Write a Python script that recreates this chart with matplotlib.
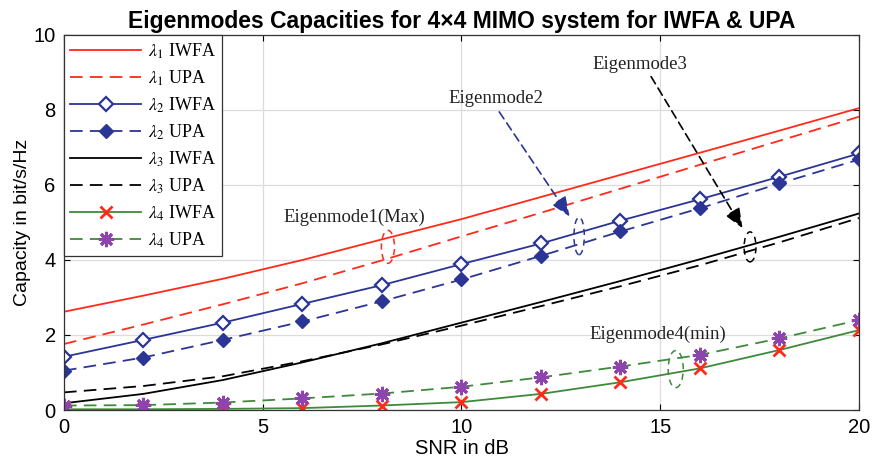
import numpy as np
import matplotlib
matplotlib.use("Agg")
from matplotlib import pyplot as plt
from matplotlib.patches import Ellipse

snr_db = [0, 2, 4, 6, 8, 10, 12, 14, 16, 18, 20]

# capacity per eigenmode (bit/s/Hz)
lam1_iwfa = [2.62, 3.05, 3.50, 4.00, 4.55, 5.09, 5.68, 6.27, 6.86, 7.45, 8.05]
lam1_upa = [1.76, 2.28, 2.82, 3.38, 3.99, 4.63, 5.26, 5.90, 6.54, 7.18, 7.82]
lam2_iwfa = [1.42, 1.87, 2.33, 2.83, 3.33, 3.89, 4.44, 5.05, 5.62, 6.22, 6.84]
lam2_upa = [1.05, 1.40, 1.87, 2.36, 2.90, 3.48, 4.11, 4.76, 5.38, 6.04, 6.68]
lam3_iwfa = [0.18, 0.43, 0.80, 1.27, 1.78, 2.33, 2.88, 3.44, 4.02, 4.62, 5.24]
lam3_upa = [0.47, 0.64, 0.90, 1.30, 1.75, 2.25, 2.77, 3.30, 3.86, 4.47, 5.12]
lam4_iwfa = [0.02, 0.02, 0.03, 0.05, 0.12, 0.21, 0.43, 0.74, 1.11, 1.60, 2.13]
lam4_upa = [0.12, 0.13, 0.20, 0.31, 0.44, 0.62, 0.87, 1.16, 1.47, 1.91, 2.40]

red = "#ff2a1a"
blue = "#2b3596"
green = "#3f8a3a"
purple = "#8e44ad"
dash = (7, 4)

plt.rcParams["font.family"] = ["Liberation Sans", "DejaVu Sans"]
plt.rcParams["mathtext.fontset"] = "stix"

fig = plt.figure(figsize=(8.74, 4.58), dpi=100)
ax = fig.add_axes([0.0732, 0.1048, 0.9096, 0.8188])

ax.plot(snr_db, lam1_iwfa, color=red, lw=1.3, label=r"$\lambda_1$ IWFA")
ax.plot(snr_db, lam1_upa, color=red, lw=1.3, dashes=dash, label=r"$\lambda_1$ UPA")
ax.plot(snr_db, lam2_iwfa, color=blue, lw=1.3, marker="D", ms=7.5, mfc="white",
        mec=blue, mew=1.6, label=r"$\lambda_2$ IWFA")
ax.plot(snr_db, lam2_upa, color=blue, lw=1.3, dashes=dash, marker="D", ms=7,
        mfc=blue, mec=blue, label=r"$\lambda_2$ UPA")
ax.plot(snr_db, lam3_iwfa, color="black", lw=1.3, label=r"$\lambda_3$ IWFA")
ax.plot(snr_db, lam3_upa, color="black", lw=1.3, dashes=dash, label=r"$\lambda_3$ UPA")
ax.plot(snr_db, lam4_iwfa, color=green, lw=1.3, marker="x", ms=9, mec=red,
        mew=2, label=r"$\lambda_4$ IWFA")
ax.plot(snr_db, lam4_upa, color=green, lw=1.3, dashes=dash, marker=(8, 2, 0),
        ms=11, mec=purple, mew=2.2, label=r"$\lambda_4$ UPA")

# eigenmode annotations
ann_font = dict(family="Liberation Serif", fontsize=13.5, color="#222222")
ax.text(7.31, 5.15, "Eigenmode1(Max)", ha="center", va="center", **ann_font)
ax.text(10.87, 8.31, "Eigenmode2", ha="center", va="center", **ann_font)
ax.text(14.49, 9.2, "Eigenmode3", ha="center", va="center", **ann_font)
ax.text(14.93, 2.03, "Eigenmode4(min)", ha="center", va="center", **ann_font)

head = "-|>,head_length=1.2,head_width=0.5"
ax.annotate("", xy=(12.72, 5.16), xytext=(10.95, 7.95),
            arrowprops=dict(arrowstyle=head, color=blue, lw=1.2,
                            linestyle=(0, (5, 3)), shrinkA=0, shrinkB=0))
ax.annotate("", xy=(17.07, 4.85), xytext=(14.77, 8.89),
            arrowprops=dict(arrowstyle=head, color="black", lw=1.2,
                            linestyle=(0, (5, 3)), shrinkA=0, shrinkB=0))

for (cx, cy, w, h, c) in [(8.15, 4.35, 0.33, 0.88, red),
                          (12.96, 4.64, 0.26, 1.0, blue),
                          (17.26, 4.35, 0.3, 0.8, "black"),
                          (15.39, 1.09, 0.38, 0.99, green)]:
    ax.add_patch(Ellipse((cx, cy), w, h, fill=False, ec=c, lw=1.1,
                         linestyle=(0, (4, 3))))

ax.set_xlim(0, 20)
ax.set_ylim(0, 10)
ax.set_xticks([0, 5, 10, 15, 20])
ax.set_yticks([0, 2, 4, 6, 8, 10])
ax.grid(True, color="#dcdcdc", lw=0.9)
ax.set_axisbelow(True)
ax.tick_params(direction="in", top=True, right=True, labelsize=14.5, length=4,
               pad=6)
for s in ax.spines.values():
    s.set_color("#333333")
    s.set_linewidth(0.9)

ax.set_xlabel("SNR in dB", fontsize=14.5, labelpad=1)
ax.set_ylabel("Capacity in bit/s/Hz", fontsize=14, labelpad=2)
ax.set_title("Eigenmodes Capacities for 4\u00d74 MIMO system for IWFA & UPA",
             fontsize=16.5, fontweight="bold", pad=5)

leg = ax.legend(loc="upper left", prop=dict(family="Liberation Serif", size=13),
                handlelength=3.9, borderaxespad=0, fancybox=False,
                edgecolor="#333333", framealpha=1, labelspacing=0.42,
                borderpad=0.35, handletextpad=0.4)
leg.get_frame().set_linewidth(0.9)

fig.savefig("out.png", dpi=100)
